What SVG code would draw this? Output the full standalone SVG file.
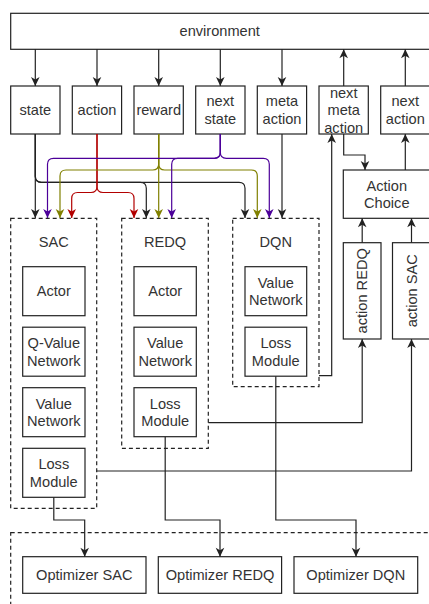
<svg xmlns="http://www.w3.org/2000/svg" width="429" height="604" viewBox="0 0 429 604">
<defs>
<style>
.box{fill:#fff;stroke:#222;stroke-width:1.2}
.dash{fill:none;stroke:#222;stroke-width:1.2;stroke-dasharray:4 3}
.t{font-family:"Liberation Sans",Arial,Helvetica,sans-serif;font-size:14.6px;fill:#333;text-anchor:middle;dominant-baseline:central}
.e{fill:none;stroke-width:1.2}
.k{stroke:#222}
.r{stroke:#B20000}
.o{stroke:#808000}
.p{stroke:#4C0099}
</style>
<marker id="ak" viewBox="-10 -5 10 10" refX="0" refY="0" markerWidth="10" markerHeight="10" orient="auto" markerUnits="userSpaceOnUse"><path d="M0,0 L-9,-4.3 L-6.5,0 L-9,4.3 Z" fill="#222"/></marker>
<marker id="ar" viewBox="-10 -5 10 10" refX="0" refY="0" markerWidth="10" markerHeight="10" orient="auto" markerUnits="userSpaceOnUse"><path d="M0,0 L-9,-4.3 L-6.5,0 L-9,4.3 Z" fill="#B20000"/></marker>
<marker id="ao" viewBox="-10 -5 10 10" refX="0" refY="0" markerWidth="10" markerHeight="10" orient="auto" markerUnits="userSpaceOnUse"><path d="M0,0 L-9,-4.3 L-6.5,0 L-9,4.3 Z" fill="#808000"/></marker>
<marker id="ap" viewBox="-10 -5 10 10" refX="0" refY="0" markerWidth="10" markerHeight="10" orient="auto" markerUnits="userSpaceOnUse"><path d="M0,0 L-9,-4.3 L-6.5,0 L-9,4.3 Z" fill="#4C0099"/></marker>
</defs>
<rect width="429" height="604" fill="#fff"/>

<g id="optimizers-container"><rect class="dash" x="10.7" y="532.7" width="430" height="100"/></g>
<g id="sac"><rect class="dash" x="10.7" y="218.3" width="86" height="290"/><text class="t" x="53.7" y="241.7">SAC</text></g>
<g id="redq"><rect class="dash" x="121.7" y="218.3" width="86.6" height="230"/><text class="t" x="165" y="241.7">REDQ</text></g>
<g id="dqn"><rect class="dash" x="232.7" y="218.3" width="86.3" height="168.4"/><text class="t" x="275.8" y="241.7">DQN</text></g>

<g id="environment"><rect class="box" x="10.7" y="13.3" width="420" height="36"/><text class="t" x="219.7" y="31.3">environment</text></g>
<g id="state"><rect class="box" x="10.7" y="86" width="49.3" height="48"/><text class="t" x="35.3" y="110">state</text></g>
<g id="action"><rect class="box" x="72.3" y="86" width="49.3" height="48"/><text class="t" x="97" y="110">action</text></g>
<g id="reward"><rect class="box" x="134" y="86" width="49.3" height="48"/><text class="t" x="158.7" y="110">reward</text></g>
<g id="next-state"><rect class="box" x="195.7" y="86" width="49.3" height="48"/><text class="t" x="220.3" y="101.3">next</text><text class="t" x="220.3" y="118.8">state</text></g>
<g id="meta-action"><rect class="box" x="257.3" y="86" width="49.3" height="48"/><text class="t" x="282" y="101.3">meta</text><text class="t" x="282" y="118.8">action</text></g>
<g id="next-meta-action"><rect class="box" x="319" y="86" width="49.3" height="48"/><text class="t" x="343.7" y="92.7">next</text><text class="t" x="343.7" y="110.2">meta</text><text class="t" x="343.7" y="127.7">action</text></g>
<g id="next-action"><rect class="box" x="380.7" y="86" width="49.3" height="48"/><text class="t" x="405.3" y="101.3">next</text><text class="t" x="405.3" y="118.8">action</text></g>
<g id="action-choice"><rect class="box" x="343.3" y="170" width="87" height="48.3"/><text class="t" x="386.8" y="185.7">Action</text><text class="t" x="386.8" y="203.2">Choice</text></g>
<g id="action-redq"><rect class="box" x="343.3" y="242.7" width="37.7" height="96.3"/><text class="t" transform="translate(362.2 290.8) rotate(-90)" x="0" y="0">action REDQ</text></g>
<g id="action-sac"><rect class="box" x="392.5" y="242.7" width="38" height="96.3"/><text class="t" transform="translate(411.5 290.8) rotate(-90)" x="0" y="0">action SAC</text></g>

<g id="sac-actor"><rect class="box" x="22.7" y="266.7" width="62.3" height="49"/><text class="t" x="53.8" y="291.2">Actor</text></g>
<g id="sac-qvalue"><rect class="box" x="22.7" y="327.2" width="62.3" height="49"/><text class="t" x="53.8" y="343">Q-Value</text><text class="t" x="53.8" y="360.5">Network</text></g>
<g id="sac-value"><rect class="box" x="22.7" y="387.7" width="62.3" height="49"/><text class="t" x="53.8" y="403.5">Value</text><text class="t" x="53.8" y="421">Network</text></g>
<g id="sac-loss"><rect class="box" x="22.7" y="448.3" width="62.3" height="49"/><text class="t" x="53.8" y="464.1">Loss</text><text class="t" x="53.8" y="481.6">Module</text></g>

<g id="redq-actor"><rect class="box" x="134" y="266.7" width="62.3" height="49"/><text class="t" x="165.2" y="291.2">Actor</text></g>
<g id="redq-value"><rect class="box" x="134" y="327.2" width="62.3" height="49"/><text class="t" x="165.2" y="343">Value</text><text class="t" x="165.2" y="360.5">Network</text></g>
<g id="redq-loss"><rect class="box" x="134" y="387.7" width="62.3" height="49"/><text class="t" x="165.2" y="403.5">Loss</text><text class="t" x="165.2" y="421">Module</text></g>

<g id="dqn-value"><rect class="box" x="245" y="266.7" width="61.7" height="49"/><text class="t" x="275.8" y="282.5">Value</text><text class="t" x="275.8" y="300">Network</text></g>
<g id="dqn-loss"><rect class="box" x="245" y="327.2" width="61.7" height="49"/><text class="t" x="275.8" y="343">Loss</text><text class="t" x="275.8" y="360.5">Module</text></g>

<g id="optimizer-sac"><rect class="box" x="22.7" y="556.7" width="123.3" height="36.6"/><text class="t" x="84.3" y="575">Optimizer SAC</text></g>
<g id="optimizer-redq"><rect class="box" x="158.3" y="556.7" width="123.3" height="36.6"/><text class="t" x="220" y="575">Optimizer REDQ</text></g>
<g id="optimizer-dqn"><rect class="box" x="294" y="556.7" width="123.7" height="36.6"/><text class="t" x="355.8" y="575">Optimizer DQN</text></g>

<g id="connectors">
<path class="e k" d="M35.3,49.3 V86" marker-end="url(#ak)"/>
<path class="e k" d="M97,49.3 V86" marker-end="url(#ak)"/>
<path class="e k" d="M158.7,49.3 V86" marker-end="url(#ak)"/>
<path class="e k" d="M220.3,49.3 V86" marker-end="url(#ak)"/>
<path class="e k" d="M282,49.3 V86" marker-end="url(#ak)"/>
<path class="e k" d="M343.7,86 V49.3" marker-end="url(#ak)"/>
<path class="e k" d="M405.3,86 V49.3" marker-end="url(#ak)"/>

<path class="e k" d="M35.3,134 V218" marker-end="url(#ak)"/>
<path class="e k" d="M35.3,134 V176.3 Q35.3,182.3 41.3,182.3 H140.3 Q146.3,182.3 146.3,188.3 V218" marker-end="url(#ak)"/>
<path class="e k" d="M35.3,134 V176.3 Q35.3,182.3 41.3,182.3 H239 Q245,182.3 245,188.3 V218" marker-end="url(#ak)"/>
<path class="e k" d="M282,134 V218" marker-end="url(#ak)"/>

<path class="e r" d="M97,134 V186.5 Q97,192.5 91,192.5 H77.7 Q71.7,192.5 71.7,198.5 V218" marker-end="url(#ar)"/>
<path class="e r" d="M97,134 V186.5 Q97,192.5 103,192.5 H128 Q134,192.5 134,198.5 V218" marker-end="url(#ar)"/>

<path class="e o" d="M158.7,134 V164 Q158.7,170 152.7,170 H66 Q60,170 60,176 V218" marker-end="url(#ao)"/>
<path class="e o" d="M158.7,134 V218" marker-end="url(#ao)"/>
<path class="e o" d="M158.7,134 V164 Q158.7,170 164.7,170 H251.3 Q257.3,170 257.3,176 V218" marker-end="url(#ao)"/>

<path class="e p" d="M220.3,134 V152.3 Q220.3,158.3 214.3,158.3 H53.5 Q47.5,158.3 47.5,164.3 V218" marker-end="url(#ap)"/>
<path class="e p" d="M220.3,134 V152.3 Q220.3,158.3 214.3,158.3 H177.7 Q171.7,158.3 171.7,164.3 V218" marker-end="url(#ap)"/>
<path class="e p" d="M220.3,134 V152.3 Q220.3,158.3 226.3,158.3 H263.3 Q269.3,158.3 269.3,164.3 V218" marker-end="url(#ap)"/>

<path class="e k" d="M343.7,134 V155 H365 V170" marker-end="url(#ak)"/>
<path class="e k" d="M405.3,170 V134" marker-end="url(#ak)"/>
<path class="e k" d="M362.2,242.7 V218.3" marker-end="url(#ak)"/>
<path class="e k" d="M411.5,242.7 V218.3" marker-end="url(#ak)"/>
<path class="e k" d="M319,375.7 H331.7 V134" marker-end="url(#ak)"/>
<path class="e k" d="M208.3,422.7 H362.2 V339" marker-end="url(#ak)"/>
<path class="e k" d="M96.7,471 H411.5 V339" marker-end="url(#ak)"/>

<path class="e k" d="M53.8,497.3 V520 H84.7 V556.7" marker-end="url(#ak)"/>
<path class="e k" d="M165.2,436.7 V520 H220 V556.7" marker-end="url(#ak)"/>
<path class="e k" d="M275.8,376.2 V520 H356 V556.7" marker-end="url(#ak)"/>
</g>
</svg>
